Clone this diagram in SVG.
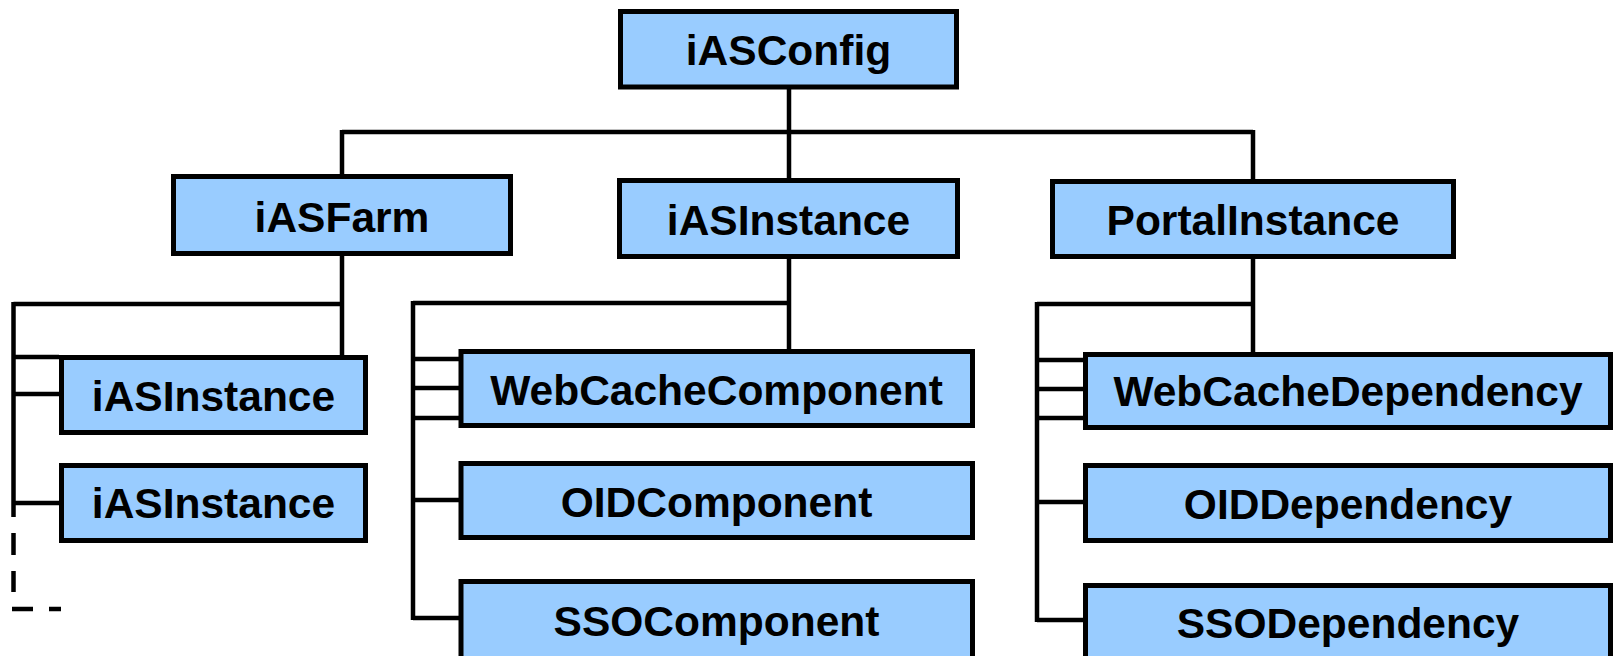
<svg xmlns="http://www.w3.org/2000/svg" width="1614" height="656" viewBox="0 0 1614 656">
<style>
.box{fill:#99CCFF;stroke:#000;stroke-width:5}
.lbl{font-family:"Liberation Sans",Arial,sans-serif;font-weight:bold;font-size:42.5px;fill:#000;text-anchor:middle}
.c{fill:none;stroke:#000;stroke-width:4.5;stroke-linecap:butt}
</style>
<rect width="1614" height="656" fill="#fff"/>
<g id="connectors">
  <path class="c" d="M789 89V132M342 132H1253M342 130V174M789 130V178M1253 130V179"/>
  <path class="c" d="M342 256V355M13.5 304H344.2M13.5 302V517M13.5 357H59M13.5 394H59M13.5 503H59"/>
  <path class="c" d="M13.5 533V555M13.5 571V592M12 609H33M49 609H61"/>
  <path class="c" d="M789 259V349M413 303H791.2M413 301V620M413 359H459M413 388H459M413 418H459M413 500H459M413 618H459"/>
  <path class="c" d="M1253 259V352M1037 304H1255.2M1037 302V622M1037 360H1083M1037 389H1083M1037 418H1083M1037 502H1083M1037 620H1083"/>
</g>
<g id="iASConfig"><rect class="box" x="620.5" y="11.5" width="336" height="75.5"/><text class="lbl" x="788.5" y="65">iASConfig</text></g>
<g id="iASFarm"><rect class="box" x="173.5" y="176.5" width="337" height="77"/><text class="lbl" x="342" y="231.5">iASFarm</text></g>
<g id="iASInstance"><rect class="box" x="619.5" y="180.5" width="338" height="76"/><text class="lbl" x="788.5" y="234.5">iASInstance</text></g>
<g id="PortalInstance"><rect class="box" x="1052.5" y="181.5" width="401" height="75"/><text class="lbl" x="1253" y="235">PortalInstance</text></g>
<g id="farm_iASInstance1"><rect class="box" x="61.5" y="357.5" width="304" height="75"/><text class="lbl" x="213.5" y="411">iASInstance</text></g>
<g id="farm_iASInstance2"><rect class="box" x="61.5" y="465.5" width="304" height="75"/><text class="lbl" x="213.5" y="518">iASInstance</text></g>
<g id="WebCacheComponent"><rect class="box" x="461" y="351.5" width="511.5" height="74"/><text class="lbl" x="716.5" y="404.5">WebCacheComponent</text></g>
<g id="OIDComponent"><rect class="box" x="461" y="463.5" width="511.5" height="74"/><text class="lbl" x="716.5" y="516.5">OIDComponent</text></g>
<g id="SSOComponent"><rect class="box" x="461" y="581.5" width="511.5" height="80"/><text class="lbl" x="716.5" y="636">SSOComponent</text></g>
<g id="WebCacheDependency"><rect class="box" x="1085.5" y="354.5" width="525" height="73"/><text class="lbl" x="1348" y="406">WebCacheDependency</text></g>
<g id="OIDDependency"><rect class="box" x="1085.5" y="465.5" width="525" height="75"/><text class="lbl" x="1348" y="518.5">OIDDependency</text></g>
<g id="SSODependency"><rect class="box" x="1085.5" y="585.5" width="525" height="80"/><text class="lbl" x="1348" y="638">SSODependency</text></g>
</svg>
